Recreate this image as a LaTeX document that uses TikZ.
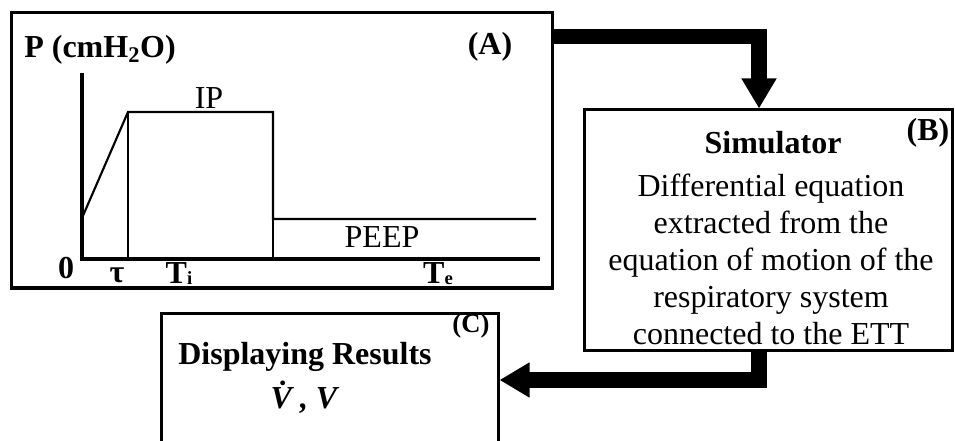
\documentclass[tikz,border=0pt]{standalone}
\usepackage{fontspec}
\setmainfont{Liberation Serif}
\usetikzlibrary{positioning,arrows.meta,calc}
\newcommand{\lowsub}[1]{\raisebox{-1.5pt}{\fontsize{14}{14}\selectfont #1}}

\begin{document}
\begin{tikzpicture}[
  x=0.75pt, y=-0.75pt,
  font=\fontsize{24}{27.75}\selectfont,
  box/.style={draw, line width=2.25pt, inner sep=0pt},
  lbl/.style={inner sep=0pt, align=center},
  blbl/.style={lbl, font=\fontsize{24}{27.75}\selectfont\bfseries},
  axis/.style={line width=2.3pt},
  curve/.style={line width=1.6pt},
  fine/.style={line width=0.9pt},
  bigarr/.style={-{Triangle[length=22.5pt, width=24.75pt]}, line width=11.5pt,
                 line join=miter}]
\useasboundingbox (0,0) rectangle (955,441);

% panels
\node[box, minimum width=405.75pt, minimum height=206.25pt] (boxA) at (281.5,150.5) {};
\node[box, minimum width=276pt, minimum height=180pt] (boxB) at (768,230) {};
\node[box, minimum width=252.75pt, minimum height=100.5pt] (boxC) at (329.5,380) {};

% (A) pressure waveform
\coordinate (orig) at (82,259);
\coordinate (ptop) at (82,73);
\coordinate (tend) at (540,259);
\coordinate (rampS) at (82,218);
\coordinate (rampE) at (128,112);
\coordinate (ipE) at (273,112);
\coordinate (peepS) at (273,219);
\coordinate (peepE) at (536,219);
\draw[axis] (ptop) -- (orig) -- (tend);
\draw[curve] (rampS) -- (rampE) -- (ipE) -- (peepS) -- (peepE);
\draw[fine] (rampE) -- (rampE|-orig);
\draw[fine] (peepS) -- (peepS|-orig);

\node[blbl] (ylab) at (100,50) {P (cmH\textsubscript{2}O)};
\node[blbl] (tagA) at (490,47) {(A)};
\node[lbl] (ipl) at (209,98) {IP};
\node[lbl] (peepl) at (382,237) {PEEP};
\node[blbl, anchor=base] (zero) at (66,278) {0};
\node[blbl, anchor=base] (taul) at (117,282) {τ};
\node[blbl, anchor=base] (til) at (179,283) {T\lowsub{i}};
\node[blbl, anchor=base] (tel) at (438,283) {T\lowsub{e}};

% (B) simulator
\node[blbl] (simt) at (773,143) {Simulator};
\node[blbl] (tagB) at (928,133) {(B)};
\node[lbl] (simx) at (771,259) {Differential equation\\extracted from the\\
  equation of motion of the\\respiratory system\\connected to the ETT};

% (C) results
\node[blbl] (disp) at (305,357) {Displaying Results};
\node[lbl, font=\fontsize{20}{24}\selectfont\bfseries] (tagC) at (471,326) {(C)};
\node[lbl, font=\fontsize{24}{27.75}\selectfont\bfseries\itshape] (vres) at (304,397)
  {V^^^^0307 , V};

% flow arrows
\draw[bigarr] ([yshift=-19pt]boxA.north east) -| ([xshift=-6.75pt]boxB.north);
\draw[bigarr] ([xshift=-6.75pt]boxB.south) |- (boxC.east);
\end{tikzpicture}
\end{document}
